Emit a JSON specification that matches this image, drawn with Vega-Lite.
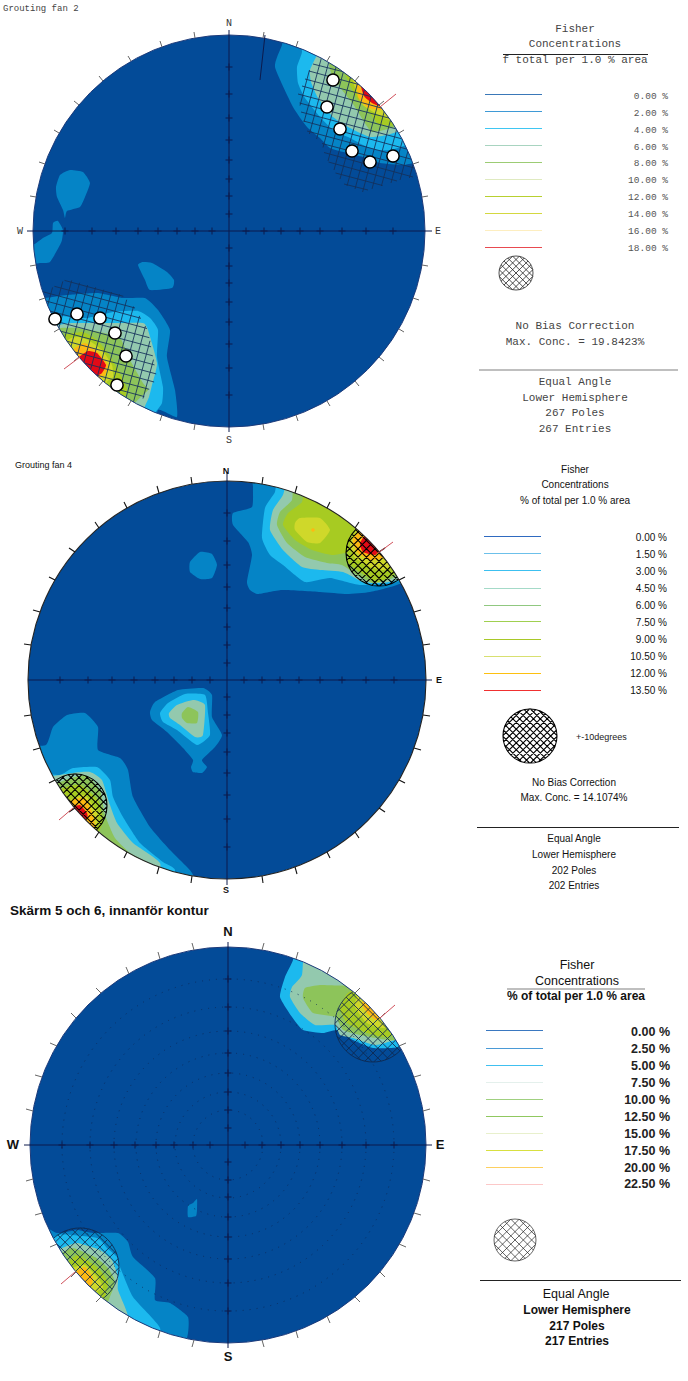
{"$schema":"https://vega.github.io/schema/vega-lite/v6.json","width":688,"height":1381,"padding":0,"autosize":{"type":"none"},"background":"white","config":{"view":{"stroke":null}},
"encoding":{"x":{"field":"x","type":"quantitative","scale":{"domain":[0,688],"nice":false,"zero":false},"axis":null},"y":{"field":"y","type":"quantitative","scale":{"domain":[0,1381],"reverse":true,"nice":false,"zero":false},"axis":null}},
"datasets":{
"polys":[
{"poly":"A1","band":"1","x":288,"y":25},{"poly":"A1","band":"1","x":282,"y":45},{"poly":"A1","band":"1","x":275,"y":67},{"poly":"A1","band":"1","x":293,"y":107},{"poly":"A1","band":"1","x":307,"y":127},{"poly":"A1","band":"1","x":320,"y":138},{"poly":"A1","band":"1","x":330,"y":148},{"poly":"A1","band":"1","x":347,"y":153},{"poly":"A1","band":"1","x":363,"y":157},{"poly":"A1","band":"1","x":380,"y":163},{"poly":"A1","band":"1","x":403,"y":165},{"poly":"A1","band":"1","x":415,"y":163},{"poly":"A1","band":"1","x":440,"y":165},{"poly":"A1","band":"1","x":435,"y":130},{"poly":"A1","band":"1","x":390,"y":80},{"poly":"A1","band":"1","x":340,"y":35},
{"poly":"A2","band":"2","x":302,"y":30},{"poly":"A2","band":"2","x":302,"y":52},{"poly":"A2","band":"2","x":297,"y":67},{"poly":"A2","band":"2","x":298,"y":83},{"poly":"A2","band":"2","x":305,"y":98},{"poly":"A2","band":"2","x":320,"y":117},{"poly":"A2","band":"2","x":333,"y":130},{"poly":"A2","band":"2","x":350,"y":138},{"poly":"A2","band":"2","x":363,"y":145},{"poly":"A2","band":"2","x":377,"y":150},{"poly":"A2","band":"2","x":390,"y":150},{"poly":"A2","band":"2","x":408,"y":145},{"poly":"A2","band":"2","x":435,"y":140},{"poly":"A2","band":"2","x":410,"y":90},{"poly":"A2","band":"2","x":370,"y":50},{"poly":"A2","band":"2","x":330,"y":30},
{"poly":"A3","band":"3","x":316,"y":57},{"poly":"A3","band":"3","x":310,"y":70},{"poly":"A3","band":"3","x":311,"y":82},{"poly":"A3","band":"3","x":318,"y":98},{"poly":"A3","band":"3","x":333,"y":117},{"poly":"A3","band":"3","x":350,"y":128},{"poly":"A3","band":"3","x":370,"y":137},{"poly":"A3","band":"3","x":387,"y":135},{"poly":"A3","band":"3","x":402,"y":130},{"poly":"A3","band":"3","x":425,"y":120},{"poly":"A3","band":"3","x":400,"y":85},{"poly":"A3","band":"3","x":360,"y":50},{"poly":"A3","band":"3","x":325,"y":40},
{"poly":"A4","band":"4","x":330,"y":62},{"poly":"A4","band":"4","x":332,"y":75},{"poly":"A4","band":"4","x":342,"y":90},{"poly":"A4","band":"4","x":353,"y":104},{"poly":"A4","band":"4","x":363,"y":120},{"poly":"A4","band":"4","x":372,"y":132},{"poly":"A4","band":"4","x":392,"y":128},{"poly":"A4","band":"4","x":400,"y":125},{"poly":"A4","band":"4","x":420,"y":110},{"poly":"A4","band":"4","x":395,"y":80},{"poly":"A4","band":"4","x":360,"y":50},
{"poly":"A5","band":"5","x":345,"y":70},{"poly":"A5","band":"5","x":350,"y":85},{"poly":"A5","band":"5","x":358,"y":100},{"poly":"A5","band":"5","x":370,"y":113},{"poly":"A5","band":"5","x":378,"y":124},{"poly":"A5","band":"5","x":395,"y":125},{"poly":"A5","band":"5","x":420,"y":110},{"poly":"A5","band":"5","x":400,"y":80},{"poly":"A5","band":"5","x":365,"y":60},
{"poly":"A6","band":"6","x":352,"y":72},{"poly":"A6","band":"6","x":356,"y":90},{"poly":"A6","band":"6","x":363,"y":105},{"poly":"A6","band":"6","x":377,"y":114},{"poly":"A6","band":"6","x":392,"y":120},{"poly":"A6","band":"6","x":412,"y":100},{"poly":"A6","band":"6","x":385,"y":72},
{"poly":"A7","band":"7","x":357,"y":78},{"poly":"A7","band":"7","x":358,"y":97},{"poly":"A7","band":"7","x":367,"y":107},{"poly":"A7","band":"7","x":383,"y":110},{"poly":"A7","band":"7","x":398,"y":100},{"poly":"A7","band":"7","x":375,"y":72},
{"poly":"A8","band":"8","x":361,"y":84},{"poly":"A8","band":"8","x":364,"y":96},{"poly":"A8","band":"8","x":372,"y":103},{"poly":"A8","band":"8","x":383,"y":107},{"poly":"A8","band":"8","x":394,"y":100},{"poly":"A8","band":"8","x":372,"y":78},
{"poly":"B1","band":"1","x":56,"y":187},{"poly":"B1","band":"1","x":60,"y":175},{"poly":"B1","band":"1","x":70,"y":170},{"poly":"B1","band":"1","x":83,"y":172},{"poly":"B1","band":"1","x":90,"y":183},{"poly":"B1","band":"1","x":85,"y":197},{"poly":"B1","band":"1","x":80,"y":207},{"poly":"B1","band":"1","x":67,"y":211},{"poly":"B1","band":"1","x":65,"y":218},{"poly":"B1","band":"1","x":63,"y":210},{"poly":"B1","band":"1","x":57,"y":197},
{"poly":"B2","band":"1","x":53,"y":223},{"poly":"B2","band":"1","x":58,"y":221},{"poly":"B2","band":"1","x":63,"y":230},{"poly":"B2","band":"1","x":62,"y":240},{"poly":"B2","band":"1","x":60,"y":245},{"poly":"B2","band":"1","x":50,"y":262},{"poly":"B2","band":"1","x":40,"y":263},{"poly":"B2","band":"1","x":20,"y":265},{"poly":"B2","band":"1","x":20,"y":248},{"poly":"B2","band":"1","x":33,"y":245},{"poly":"B2","band":"1","x":43,"y":238},{"poly":"B2","band":"1","x":52,"y":233},
{"poly":"B3","band":"1","x":138,"y":265},{"poly":"B3","band":"1","x":143,"y":262},{"poly":"B3","band":"1","x":152,"y":263},{"poly":"B3","band":"1","x":167,"y":272},{"poly":"B3","band":"1","x":174,"y":280},{"poly":"B3","band":"1","x":172,"y":288},{"poly":"B3","band":"1","x":150,"y":290},{"poly":"B3","band":"1","x":145,"y":280},
{"poly":"C1","band":"1","x":45,"y":298},{"poly":"C1","band":"1","x":67,"y":295},{"poly":"C1","band":"1","x":97,"y":293},{"poly":"C1","band":"1","x":123,"y":298},{"poly":"C1","band":"1","x":145,"y":298},{"poly":"C1","band":"1","x":158,"y":310},{"poly":"C1","band":"1","x":170,"y":330},{"poly":"C1","band":"1","x":167,"y":357},{"poly":"C1","band":"1","x":175,"y":390},{"poly":"C1","band":"1","x":177,"y":417},{"poly":"C1","band":"1","x":158,"y":410},{"poly":"C1","band":"1","x":150,"y":440},{"poly":"C1","band":"1","x":75,"y":395},{"poly":"C1","band":"1","x":25,"y":300},
{"poly":"C2","band":"2","x":40,"y":315},{"poly":"C2","band":"2","x":63,"y":316},{"poly":"C2","band":"2","x":87,"y":318},{"poly":"C2","band":"2","x":113,"y":312},{"poly":"C2","band":"2","x":138,"y":311},{"poly":"C2","band":"2","x":150,"y":318},{"poly":"C2","band":"2","x":158,"y":330},{"poly":"C2","band":"2","x":157,"y":357},{"poly":"C2","band":"2","x":163,"y":387},{"poly":"C2","band":"2","x":162,"y":403},{"poly":"C2","band":"2","x":155,"y":413},{"poly":"C2","band":"2","x":145,"y":430},{"poly":"C2","band":"2","x":75,"y":395},{"poly":"C2","band":"2","x":30,"y":320},
{"poly":"C3","band":"3","x":58,"y":325},{"poly":"C3","band":"3","x":73,"y":323},{"poly":"C3","band":"3","x":97,"y":323},{"poly":"C3","band":"3","x":120,"y":323},{"poly":"C3","band":"3","x":143,"y":323},{"poly":"C3","band":"3","x":148,"y":330},{"poly":"C3","band":"3","x":157,"y":363},{"poly":"C3","band":"3","x":152,"y":385},{"poly":"C3","band":"3","x":149,"y":397},{"poly":"C3","band":"3","x":145,"y":406},{"poly":"C3","band":"3","x":135,"y":425},{"poly":"C3","band":"3","x":70,"y":390},{"poly":"C3","band":"3","x":40,"y":330},
{"poly":"C4","band":"4","x":60,"y":328},{"poly":"C4","band":"4","x":78,"y":328},{"poly":"C4","band":"4","x":100,"y":332},{"poly":"C4","band":"4","x":120,"y":338},{"poly":"C4","band":"4","x":130,"y":360},{"poly":"C4","band":"4","x":143,"y":383},{"poly":"C4","band":"4","x":148,"y":390},{"poly":"C4","band":"4","x":135,"y":403},{"poly":"C4","band":"4","x":125,"y":425},{"poly":"C4","band":"4","x":70,"y":390},{"poly":"C4","band":"4","x":45,"y":335},
{"poly":"C5","band":"5","x":63,"y":335},{"poly":"C5","band":"5","x":83,"y":332},{"poly":"C5","band":"5","x":97,"y":340},{"poly":"C5","band":"5","x":108,"y":353},{"poly":"C5","band":"5","x":117,"y":368},{"poly":"C5","band":"5","x":127,"y":390},{"poly":"C5","band":"5","x":115,"y":410},{"poly":"C5","band":"5","x":60,"y":375},{"poly":"C5","band":"5","x":45,"y":340},
{"poly":"C6","band":"6","x":68,"y":340},{"poly":"C6","band":"6","x":78,"y":337},{"poly":"C6","band":"6","x":88,"y":340},{"poly":"C6","band":"6","x":102,"y":350},{"poly":"C6","band":"6","x":112,"y":365},{"poly":"C6","band":"6","x":113,"y":377},{"poly":"C6","band":"6","x":107,"y":382},{"poly":"C6","band":"6","x":100,"y":405},{"poly":"C6","band":"6","x":55,"y":365},
{"poly":"C7","band":"7","x":75,"y":348},{"poly":"C7","band":"7","x":85,"y":343},{"poly":"C7","band":"7","x":98,"y":352},{"poly":"C7","band":"7","x":108,"y":365},{"poly":"C7","band":"7","x":105,"y":375},{"poly":"C7","band":"7","x":100,"y":378},{"poly":"C7","band":"7","x":92,"y":395},{"poly":"C7","band":"7","x":60,"y":365},
{"poly":"C8","band":"8","x":79,"y":357},{"poly":"C8","band":"8","x":88,"y":351},{"poly":"C8","band":"8","x":97,"y":353},{"poly":"C8","band":"8","x":106,"y":365},{"poly":"C8","band":"8","x":102,"y":373},{"poly":"C8","band":"8","x":98,"y":376},{"poly":"C8","band":"8","x":90,"y":390},{"poly":"C8","band":"8","x":65,"y":370},
{"poly":"D1","band":"1","x":255,"y":470},{"poly":"D1","band":"1","x":253,"y":487},{"poly":"D1","band":"1","x":252,"y":507},{"poly":"D1","band":"1","x":233,"y":513},{"poly":"D1","band":"1","x":233,"y":525},{"poly":"D1","band":"1","x":248,"y":542},{"poly":"D1","band":"1","x":252,"y":555},{"poly":"D1","band":"1","x":247,"y":582},{"poly":"D1","band":"1","x":250,"y":590},{"poly":"D1","band":"1","x":258,"y":594},{"poly":"D1","band":"1","x":282,"y":590},{"poly":"D1","band":"1","x":320,"y":592},{"poly":"D1","band":"1","x":347,"y":594},{"poly":"D1","band":"1","x":370,"y":592},{"poly":"D1","band":"1","x":397,"y":585},{"poly":"D1","band":"1","x":425,"y":570},{"poly":"D1","band":"1","x":395,"y":530},{"poly":"D1","band":"1","x":325,"y":475},
{"poly":"D2","band":"2","x":280,"y":472},{"poly":"D2","band":"2","x":275,"y":492},{"poly":"D2","band":"2","x":265,"y":508},{"poly":"D2","band":"2","x":262,"y":538},{"poly":"D2","band":"2","x":270,"y":555},{"poly":"D2","band":"2","x":283,"y":565},{"poly":"D2","band":"2","x":305,"y":582},{"poly":"D2","band":"2","x":330,"y":578},{"poly":"D2","band":"2","x":360,"y":585},{"poly":"D2","band":"2","x":397,"y":582},{"poly":"D2","band":"2","x":420,"y":565},{"poly":"D2","band":"2","x":395,"y":530},{"poly":"D2","band":"2","x":325,"y":475},
{"poly":"D3","band":"3","x":290,"y":475},{"poly":"D3","band":"3","x":283,"y":495},{"poly":"D3","band":"3","x":273,"y":510},{"poly":"D3","band":"3","x":270,"y":530},{"poly":"D3","band":"3","x":283,"y":550},{"poly":"D3","band":"3","x":302,"y":567},{"poly":"D3","band":"3","x":320,"y":570},{"poly":"D3","band":"3","x":343,"y":572},{"poly":"D3","band":"3","x":363,"y":582},{"poly":"D3","band":"3","x":380,"y":583},{"poly":"D3","band":"3","x":397,"y":580},{"poly":"D3","band":"3","x":420,"y":562},{"poly":"D3","band":"3","x":395,"y":530},{"poly":"D3","band":"3","x":325,"y":475},
{"poly":"D4","band":"4","x":295,"y":478},{"poly":"D4","band":"4","x":292,"y":500},{"poly":"D4","band":"4","x":280,"y":512},{"poly":"D4","band":"4","x":277,"y":525},{"poly":"D4","band":"4","x":287,"y":543},{"poly":"D4","band":"4","x":305,"y":557},{"poly":"D4","band":"4","x":327,"y":563},{"poly":"D4","band":"4","x":342,"y":565},{"poly":"D4","band":"4","x":357,"y":575},{"poly":"D4","band":"4","x":373,"y":583},{"poly":"D4","band":"4","x":393,"y":578},{"poly":"D4","band":"4","x":420,"y":560},{"poly":"D4","band":"4","x":395,"y":530},{"poly":"D4","band":"4","x":325,"y":475},
{"poly":"D5","band":"5","x":305,"y":485},{"poly":"D5","band":"5","x":302,"y":502},{"poly":"D5","band":"5","x":288,"y":513},{"poly":"D5","band":"5","x":283,"y":525},{"poly":"D5","band":"5","x":295,"y":540},{"poly":"D5","band":"5","x":312,"y":550},{"poly":"D5","band":"5","x":332,"y":555},{"poly":"D5","band":"5","x":347,"y":553},{"poly":"D5","band":"5","x":348,"y":563},{"poly":"D5","band":"5","x":360,"y":572},{"poly":"D5","band":"5","x":377,"y":582},{"poly":"D5","band":"5","x":393,"y":575},{"poly":"D5","band":"5","x":420,"y":555},{"poly":"D5","band":"5","x":395,"y":530},{"poly":"D5","band":"5","x":325,"y":480},
{"poly":"D6","band":"6","x":295,"y":523},{"poly":"D6","band":"6","x":300,"y":518},{"poly":"D6","band":"6","x":320,"y":518},{"poly":"D6","band":"6","x":330,"y":530},{"poly":"D6","band":"6","x":320,"y":543},{"poly":"D6","band":"6","x":307,"y":542},{"poly":"D6","band":"6","x":295,"y":530},
{"poly":"D7","band":"7","x":311,"y":530},{"poly":"D7","band":"7","x":313,"y":528},{"poly":"D7","band":"7","x":315,"y":530},{"poly":"D7","band":"7","x":313,"y":532},
{"poly":"D8","band":"6","x":357,"y":530},{"poly":"D8","band":"6","x":350,"y":545},{"poly":"D8","band":"6","x":355,"y":558},{"poly":"D8","band":"6","x":370,"y":567},{"poly":"D8","band":"6","x":385,"y":570},{"poly":"D8","band":"6","x":400,"y":560},{"poly":"D8","band":"6","x":380,"y":530},
{"poly":"D9","band":"7","x":353,"y":538},{"poly":"D9","band":"7","x":357,"y":552},{"poly":"D9","band":"7","x":370,"y":560},{"poly":"D9","band":"7","x":383,"y":558},{"poly":"D9","band":"7","x":395,"y":540},{"poly":"D9","band":"7","x":375,"y":520},
{"poly":"D10","band":"8","x":360,"y":543},{"poly":"D10","band":"8","x":363,"y":552},{"poly":"D10","band":"8","x":375,"y":555},{"poly":"D10","band":"8","x":378,"y":552},{"poly":"D10","band":"8","x":385,"y":545},{"poly":"D10","band":"8","x":370,"y":530},
{"poly":"E1","band":"1","x":190,"y":562},{"poly":"E1","band":"1","x":200,"y":552},{"poly":"E1","band":"1","x":212,"y":554},{"poly":"E1","band":"1","x":217,"y":565},{"poly":"E1","band":"1","x":212,"y":578},{"poly":"E1","band":"1","x":200,"y":579},{"poly":"E1","band":"1","x":190,"y":572},
{"poly":"F1","band":"1","x":150,"y":712},{"poly":"F1","band":"1","x":155,"y":702},{"poly":"F1","band":"1","x":178,"y":690},{"poly":"F1","band":"1","x":203,"y":688},{"poly":"F1","band":"1","x":212,"y":695},{"poly":"F1","band":"1","x":212,"y":717},{"poly":"F1","band":"1","x":222,"y":735},{"poly":"F1","band":"1","x":215,"y":747},{"poly":"F1","band":"1","x":202,"y":760},{"poly":"F1","band":"1","x":207,"y":767},{"poly":"F1","band":"1","x":202,"y":773},{"poly":"F1","band":"1","x":193,"y":772},{"poly":"F1","band":"1","x":191,"y":767},{"poly":"F1","band":"1","x":193,"y":760},{"poly":"F1","band":"1","x":183,"y":748},{"poly":"F1","band":"1","x":167,"y":732},{"poly":"F1","band":"1","x":152,"y":720},
{"poly":"F2","band":"2","x":160,"y":713},{"poly":"F2","band":"2","x":168,"y":703},{"poly":"F2","band":"2","x":185,"y":694},{"poly":"F2","band":"2","x":205,"y":695},{"poly":"F2","band":"2","x":208,"y":713},{"poly":"F2","band":"2","x":210,"y":735},{"poly":"F2","band":"2","x":197,"y":745},{"poly":"F2","band":"2","x":177,"y":730},{"poly":"F2","band":"2","x":163,"y":722},
{"poly":"F3","band":"3","x":169,"y":713},{"poly":"F3","band":"3","x":177,"y":705},{"poly":"F3","band":"3","x":193,"y":700},{"poly":"F3","band":"3","x":205,"y":705},{"poly":"F3","band":"3","x":203,"y":735},{"poly":"F3","band":"3","x":195,"y":737},{"poly":"F3","band":"3","x":180,"y":725},{"poly":"F3","band":"3","x":170,"y":718},
{"poly":"F4","band":"4","x":182,"y":713},{"poly":"F4","band":"4","x":188,"y":707},{"poly":"F4","band":"4","x":198,"y":712},{"poly":"F4","band":"4","x":197,"y":723},{"poly":"F4","band":"4","x":187,"y":723},{"poly":"F4","band":"4","x":182,"y":718},
{"poly":"G1","band":"1","x":46,"y":745},{"poly":"G1","band":"1","x":53,"y":727},{"poly":"G1","band":"1","x":67,"y":715},{"poly":"G1","band":"1","x":85,"y":713},{"poly":"G1","band":"1","x":98,"y":727},{"poly":"G1","band":"1","x":98,"y":750},{"poly":"G1","band":"1","x":120,"y":758},{"poly":"G1","band":"1","x":128,"y":770},{"poly":"G1","band":"1","x":133,"y":797},{"poly":"G1","band":"1","x":150,"y":827},{"poly":"G1","band":"1","x":170,"y":850},{"poly":"G1","band":"1","x":187,"y":867},{"poly":"G1","band":"1","x":193,"y":875},{"poly":"G1","band":"1","x":195,"y":900},{"poly":"G1","band":"1","x":110,"y":870},{"poly":"G1","band":"1","x":50,"y":810},{"poly":"G1","band":"1","x":20,"y":750},
{"poly":"G2","band":"2","x":60,"y":775},{"poly":"G2","band":"2","x":73,"y":768},{"poly":"G2","band":"2","x":97,"y":767},{"poly":"G2","band":"2","x":110,"y":780},{"poly":"G2","band":"2","x":113,"y":797},{"poly":"G2","band":"2","x":123,"y":817},{"poly":"G2","band":"2","x":140,"y":843},{"poly":"G2","band":"2","x":163,"y":862},{"poly":"G2","band":"2","x":175,"y":870},{"poly":"G2","band":"2","x":165,"y":895},{"poly":"G2","band":"2","x":110,"y":870},{"poly":"G2","band":"2","x":50,"y":810},{"poly":"G2","band":"2","x":35,"y":775},
{"poly":"G3","band":"3","x":73,"y":773},{"poly":"G3","band":"3","x":90,"y":772},{"poly":"G3","band":"3","x":102,"y":780},{"poly":"G3","band":"3","x":110,"y":805},{"poly":"G3","band":"3","x":117,"y":823},{"poly":"G3","band":"3","x":133,"y":843},{"poly":"G3","band":"3","x":160,"y":863},{"poly":"G3","band":"3","x":155,"y":890},{"poly":"G3","band":"3","x":110,"y":870},{"poly":"G3","band":"3","x":50,"y":810},{"poly":"G3","band":"3","x":40,"y":780},
{"poly":"G4","band":"4","x":85,"y":775},{"poly":"G4","band":"4","x":100,"y":790},{"poly":"G4","band":"4","x":105,"y":815},{"poly":"G4","band":"4","x":115,"y":838},{"poly":"G4","band":"4","x":130,"y":853},{"poly":"G4","band":"4","x":152,"y":866},{"poly":"G4","band":"4","x":140,"y":885},{"poly":"G4","band":"4","x":100,"y":875},{"poly":"G4","band":"4","x":50,"y":815},{"poly":"G4","band":"4","x":55,"y":785},
{"poly":"G5","band":"5","x":60,"y":790},{"poly":"G5","band":"5","x":80,"y":785},{"poly":"G5","band":"5","x":98,"y":800},{"poly":"G5","band":"5","x":103,"y":820},{"poly":"G5","band":"5","x":98,"y":833},{"poly":"G5","band":"5","x":80,"y":850},{"poly":"G5","band":"5","x":45,"y":820},
{"poly":"G6","band":"6","x":70,"y":800},{"poly":"G6","band":"6","x":85,"y":795},{"poly":"G6","band":"6","x":97,"y":812},{"poly":"G6","band":"6","x":97,"y":825},{"poly":"G6","band":"6","x":90,"y":835},{"poly":"G6","band":"6","x":60,"y":825},{"poly":"G6","band":"6","x":55,"y":805},
{"poly":"G7","band":"7","x":72,"y":800},{"poly":"G7","band":"7","x":85,"y":798},{"poly":"G7","band":"7","x":93,"y":815},{"poly":"G7","band":"7","x":95,"y":828},{"poly":"G7","band":"7","x":90,"y":835},{"poly":"G7","band":"7","x":70,"y":825},{"poly":"G7","band":"7","x":60,"y":810},
{"poly":"G8","band":"8","x":73,"y":807},{"poly":"G8","band":"8","x":80,"y":805},{"poly":"G8","band":"8","x":87,"y":813},{"poly":"G8","band":"8","x":87,"y":818},{"poly":"G8","band":"8","x":75,"y":825},{"poly":"G8","band":"8","x":60,"y":812},
{"poly":"H2","band":"2","x":295,"y":940},{"poly":"H2","band":"2","x":293,"y":960},{"poly":"H2","band":"2","x":285,"y":977},{"poly":"H2","band":"2","x":280,"y":997},{"poly":"H2","band":"2","x":292,"y":1017},{"poly":"H2","band":"2","x":303,"y":1030},{"poly":"H2","band":"2","x":323,"y":1033},{"poly":"H2","band":"2","x":337,"y":1030},{"poly":"H2","band":"2","x":353,"y":1040},{"poly":"H2","band":"2","x":373,"y":1048},{"poly":"H2","band":"2","x":400,"y":1047},{"poly":"H2","band":"2","x":425,"y":1035},{"poly":"H2","band":"2","x":390,"y":985},{"poly":"H2","band":"2","x":330,"y":945},
{"poly":"H3","band":"3","x":305,"y":950},{"poly":"H3","band":"3","x":302,"y":975},{"poly":"H3","band":"3","x":292,"y":987},{"poly":"H3","band":"3","x":290,"y":997},{"poly":"H3","band":"3","x":300,"y":1013},{"poly":"H3","band":"3","x":315,"y":1025},{"poly":"H3","band":"3","x":335,"y":1025},{"poly":"H3","band":"3","x":340,"y":1035},{"poly":"H3","band":"3","x":353,"y":1038},{"poly":"H3","band":"3","x":375,"y":1045},{"poly":"H3","band":"3","x":395,"y":1040},{"poly":"H3","band":"3","x":425,"y":1030},{"poly":"H3","band":"3","x":390,"y":985},{"poly":"H3","band":"3","x":330,"y":945},
{"poly":"H4","band":"4","x":305,"y":988},{"poly":"H4","band":"4","x":320,"y":985},{"poly":"H4","band":"4","x":347,"y":985},{"poly":"H4","band":"4","x":375,"y":970},{"poly":"H4","band":"4","x":420,"y":1020},{"poly":"H4","band":"4","x":395,"y":1040},{"poly":"H4","band":"4","x":360,"y":1035},{"poly":"H4","band":"4","x":343,"y":1030},{"poly":"H4","band":"4","x":335,"y":1017},{"poly":"H4","band":"4","x":313,"y":1013},{"poly":"H4","band":"4","x":303,"y":998},
{"poly":"H5","band":"5","x":348,"y":993},{"poly":"H5","band":"5","x":340,"y":1008},{"poly":"H5","band":"5","x":347,"y":1023},{"poly":"H5","band":"5","x":367,"y":1033},{"poly":"H5","band":"5","x":388,"y":1037},{"poly":"H5","band":"5","x":415,"y":1020},{"poly":"H5","band":"5","x":380,"y":975},
{"poly":"H6","band":"6","x":358,"y":993},{"poly":"H6","band":"6","x":355,"y":1007},{"poly":"H6","band":"6","x":367,"y":1023},{"poly":"H6","band":"6","x":385,"y":1028},{"poly":"H6","band":"6","x":410,"y":1015},{"poly":"H6","band":"6","x":375,"y":975},
{"poly":"H7","band":"7","x":362,"y":1003},{"poly":"H7","band":"7","x":367,"y":1013},{"poly":"H7","band":"7","x":377,"y":1020},{"poly":"H7","band":"7","x":395,"y":1010},{"poly":"H7","band":"7","x":375,"y":990},
{"poly":"J1","band":"1","x":188,"y":1206},{"poly":"J1","band":"1","x":193,"y":1203},{"poly":"J1","band":"1","x":197,"y":1199},{"poly":"J1","band":"1","x":197,"y":1210},{"poly":"J1","band":"1","x":196,"y":1216},{"poly":"J1","band":"1","x":188,"y":1217},
{"poly":"K1","band":"1","x":57,"y":1233},{"poly":"K1","band":"1","x":77,"y":1230},{"poly":"K1","band":"1","x":93,"y":1233},{"poly":"K1","band":"1","x":118,"y":1233},{"poly":"K1","band":"1","x":128,"y":1242},{"poly":"K1","band":"1","x":133,"y":1257},{"poly":"K1","band":"1","x":155,"y":1278},{"poly":"K1","band":"1","x":155,"y":1300},{"poly":"K1","band":"1","x":170,"y":1303},{"poly":"K1","band":"1","x":188,"y":1317},{"poly":"K1","band":"1","x":187,"y":1338},{"poly":"K1","band":"1","x":170,"y":1365},{"poly":"K1","band":"1","x":100,"y":1330},{"poly":"K1","band":"1","x":40,"y":1260},{"poly":"K1","band":"1","x":30,"y":1220},
{"poly":"K2","band":"2","x":58,"y":1235},{"poly":"K2","band":"2","x":97,"y":1238},{"poly":"K2","band":"2","x":107,"y":1248},{"poly":"K2","band":"2","x":117,"y":1257},{"poly":"K2","band":"2","x":120,"y":1267},{"poly":"K2","band":"2","x":133,"y":1297},{"poly":"K2","band":"2","x":160,"y":1328},{"poly":"K2","band":"2","x":155,"y":1360},{"poly":"K2","band":"2","x":100,"y":1330},{"poly":"K2","band":"2","x":40,"y":1260},
{"poly":"K3","band":"3","x":62,"y":1248},{"poly":"K3","band":"3","x":77,"y":1243},{"poly":"K3","band":"3","x":100,"y":1250},{"poly":"K3","band":"3","x":112,"y":1260},{"poly":"K3","band":"3","x":118,"y":1277},{"poly":"K3","band":"3","x":118,"y":1290},{"poly":"K3","band":"3","x":128,"y":1316},{"poly":"K3","band":"3","x":125,"y":1345},{"poly":"K3","band":"3","x":80,"y":1320},{"poly":"K3","band":"3","x":35,"y":1260},
{"poly":"K4","band":"4","x":63,"y":1252},{"poly":"K4","band":"4","x":73,"y":1248},{"poly":"K4","band":"4","x":95,"y":1257},{"poly":"K4","band":"4","x":108,"y":1268},{"poly":"K4","band":"4","x":115,"y":1282},{"poly":"K4","band":"4","x":108,"y":1302},{"poly":"K4","band":"4","x":100,"y":1325},{"poly":"K4","band":"4","x":40,"y":1265},
{"poly":"K5","band":"5","x":67,"y":1262},{"poly":"K5","band":"5","x":78,"y":1255},{"poly":"K5","band":"5","x":98,"y":1268},{"poly":"K5","band":"5","x":108,"y":1282},{"poly":"K5","band":"5","x":105,"y":1297},{"poly":"K5","band":"5","x":95,"y":1320},{"poly":"K5","band":"5","x":45,"y":1270},
{"poly":"K6","band":"6","x":72,"y":1268},{"poly":"K6","band":"6","x":85,"y":1265},{"poly":"K6","band":"6","x":98,"y":1278},{"poly":"K6","band":"6","x":103,"y":1287},{"poly":"K6","band":"6","x":97,"y":1292},{"poly":"K6","band":"6","x":85,"y":1310},{"poly":"K6","band":"6","x":50,"y":1280},
{"poly":"K7","band":"7","x":75,"y":1272},{"poly":"K7","band":"7","x":85,"y":1267},{"poly":"K7","band":"7","x":93,"y":1278},{"poly":"K7","band":"7","x":90,"y":1288},{"poly":"K7","band":"7","x":75,"y":1300},{"poly":"K7","band":"7","x":55,"y":1285}
],
"hatch":[
{"x":313,"y":64,"x2":350,"y2":73.5},{"x":309,"y":71,"x2":368,"y2":87},{"x":305,"y":79,"x2":380,"y2":99},{"x":302,"y":86,"x2":392,"y2":111},{"x":298,"y":94,"x2":400,"y2":121},{"x":299.5,"y":103,"x2":404,"y2":131},{"x":301,"y":112,"x2":410,"y2":141},{"x":303.5,"y":121,"x2":414,"y2":151},{"x":307,"y":131,"x2":418,"y2":161},{"x":322,"y":143.5,"x2":422,"y2":170},{"x":324,"y":152.5,"x2":413,"y2":177},{"x":328.5,"y":162,"x2":397,"y2":181},{"x":335.5,"y":173,"x2":382.6,"y2":185.5},{"x":344,"y":184,"x2":368,"y2":190},
{"x":309.5,"y":70,"x2":300,"y2":105.5},{"x":323,"y":52,"x2":304,"y2":122},{"x":332,"y":50,"x2":309.4,"y2":134},{"x":339,"y":56,"x2":316.6,"y2":139},{"x":346,"y":62,"x2":323,"y2":147.5},{"x":353,"y":68,"x2":328,"y2":161},{"x":360,"y":74,"x2":334,"y2":170},{"x":367,"y":80,"x2":340,"y2":179},{"x":375,"y":82,"x2":347,"y2":186},{"x":383,"y":85,"x2":355,"y2":189},{"x":390,"y":90,"x2":362.6,"y2":192},{"x":397,"y":96,"x2":372,"y2":189},{"x":404,"y":102,"x2":381.4,"y2":186},{"x":410,"y":112,"x2":391,"y2":183},{"x":414,"y":129,"x2":400,"y2":180},{"x":420,"y":139,"x2":409.4,"y2":178},
{"x":64.5,"y":280.4,"x2":123.3,"y2":296.3},{"x":54.4,"y":286.3,"x2":135,"y2":308},{"x":35,"y":289.6,"x2":141,"y2":318.3},{"x":35,"y":298,"x2":147,"y2":328.5},{"x":35,"y":307,"x2":149.4,"y2":337.7},{"x":40,"y":317,"x2":151.1,"y2":346.8},{"x":45,"y":327,"x2":152.8,"y2":355.8},{"x":55,"y":338,"x2":154.5,"y2":364.9},{"x":65,"y":349.4,"x2":156.2,"y2":373.9},{"x":75,"y":360.6,"x2":154.1,"y2":382},{"x":85,"y":372,"x2":149.2,"y2":389.3},{"x":100,"y":384.6,"x2":144.3,"y2":396.6},
{"x":52.6,"y":287.4,"x2":45,"y2":315},{"x":62.8,"y":281.4,"x2":48,"y2":336},{"x":71.7,"y":280.4,"x2":54.3,"y2":345},{"x":79.6,"y":282.7,"x2":59.3,"y2":358},{"x":87.6,"y":285,"x2":64.7,"y2":370},{"x":95.6,"y":287.3,"x2":72,"y2":375},{"x":103.6,"y":289.7,"x2":77.8,"y2":385},{"x":111.5,"y":292,"x2":83.7,"y2":395},{"x":119.5,"y":294.3,"x2":89.6,"y2":405},{"x":126.7,"y":299.7,"x2":99.6,"y2":400},{"x":133.5,"y":306.5,"x2":105.5,"y2":410},{"x":139.6,"y":315.9,"x2":112.8,"y2":415},{"x":145.5,"y":325.9,"x2":120,"y2":420},{"x":150,"y":340.8,"x2":128.6,"y2":420},{"x":153.5,"y":359.6,"x2":143,"y2":398.5}
],
"ticksA":[
{"x":263,"y":38,"x2":264,"y2":32},{"x":296,"y":47,"x2":298,"y2":41},{"x":327,"y":61,"x2":330,"y2":56},{"x":355,"y":81,"x2":359,"y2":76},{"x":379,"y":105,"x2":384,"y2":101},{"x":399,"y":133,"x2":404,"y2":130},{"x":413,"y":164,"x2":419,"y2":162},{"x":422,"y":197,"x2":428,"y2":196},{"x":422,"y":265,"x2":428,"y2":266},{"x":413,"y":298,"x2":419,"y2":300},{"x":399,"y":329,"x2":404,"y2":332},{"x":379,"y":357,"x2":384,"y2":361},{"x":355,"y":381,"x2":359,"y2":386},{"x":327,"y":401,"x2":330,"y2":406},{"x":296,"y":415,"x2":298,"y2":421},{"x":263,"y":424,"x2":264,"y2":430},{"x":195,"y":424,"x2":194,"y2":430},{"x":162,"y":415,"x2":160,"y2":421},{"x":131,"y":401,"x2":128,"y2":406},{"x":103,"y":381,"x2":99,"y2":386},{"x":79,"y":357,"x2":74,"y2":361},{"x":59,"y":329,"x2":54,"y2":332},{"x":45,"y":298,"x2":39,"y2":300},{"x":36,"y":265,"x2":30,"y2":266},{"x":36,"y":197,"x2":30,"y2":196},{"x":45,"y":164,"x2":39,"y2":162},{"x":59,"y":133,"x2":54,"y2":130},{"x":79,"y":105,"x2":74,"y2":101},{"x":103,"y":81,"x2":99,"y2":76},{"x":131,"y":61,"x2":128,"y2":56},{"x":162,"y":47,"x2":160,"y2":41},{"x":195,"y":38,"x2":194,"y2":32},
{"x":262,"y":950,"x2":264,"y2":943},{"x":296,"y":959,"x2":298,"y2":952},{"x":327,"y":974,"x2":330,"y2":967},{"x":355,"y":993,"x2":360,"y2":988},{"x":380,"y":1018,"x2":385,"y2":1013},{"x":399,"y":1046,"x2":406,"y2":1043},{"x":414,"y":1077,"x2":421,"y2":1075},{"x":423,"y":1111,"x2":430,"y2":1109},{"x":423,"y":1179,"x2":430,"y2":1181},{"x":414,"y":1213,"x2":421,"y2":1215},{"x":399,"y":1244,"x2":406,"y2":1247},{"x":380,"y":1272,"x2":385,"y2":1277},{"x":355,"y":1297,"x2":360,"y2":1302},{"x":327,"y":1316,"x2":330,"y2":1323},{"x":296,"y":1331,"x2":298,"y2":1338},{"x":262,"y":1340,"x2":264,"y2":1347},{"x":194,"y":1340,"x2":192,"y2":1347},{"x":160,"y":1331,"x2":158,"y2":1338},{"x":129,"y":1316,"x2":126,"y2":1323},{"x":101,"y":1297,"x2":96,"y2":1302},{"x":76,"y":1272,"x2":71,"y2":1277},{"x":57,"y":1244,"x2":50,"y2":1247},{"x":42,"y":1213,"x2":35,"y2":1215},{"x":33,"y":1179,"x2":26,"y2":1181},{"x":33,"y":1111,"x2":26,"y2":1109},{"x":42,"y":1077,"x2":35,"y2":1075},{"x":57,"y":1046,"x2":50,"y2":1043},{"x":76,"y":1018,"x2":71,"y2":1013},{"x":101,"y":993,"x2":96,"y2":988},{"x":129,"y":974,"x2":126,"y2":967},{"x":160,"y":959,"x2":158,"y2":952},{"x":194,"y":950,"x2":192,"y2":943}
],
"ticksB":[
{"x":262,"y":484,"x2":263,"y2":477},{"x":295,"y":493,"x2":297,"y2":486},{"x":327,"y":508,"x2":330,"y2":502},{"x":355,"y":528,"x2":359,"y2":522},{"x":379,"y":552,"x2":385,"y2":548},{"x":399,"y":580,"x2":405,"y2":577},{"x":414,"y":612,"x2":421,"y2":610},{"x":423,"y":645,"x2":430,"y2":644},{"x":423,"y":715,"x2":430,"y2":716},{"x":414,"y":748,"x2":421,"y2":750},{"x":399,"y":780,"x2":405,"y2":783},{"x":379,"y":808,"x2":385,"y2":812},{"x":355,"y":832,"x2":359,"y2":838},{"x":327,"y":852,"x2":330,"y2":858},{"x":295,"y":867,"x2":297,"y2":874},{"x":262,"y":876,"x2":263,"y2":883},{"x":192,"y":876,"x2":191,"y2":883},{"x":159,"y":867,"x2":157,"y2":874},{"x":127,"y":852,"x2":124,"y2":858},{"x":99,"y":832,"x2":95,"y2":838},{"x":75,"y":808,"x2":69,"y2":812},{"x":55,"y":780,"x2":49,"y2":783},{"x":40,"y":748,"x2":33,"y2":750},{"x":31,"y":715,"x2":24,"y2":716},{"x":31,"y":645,"x2":24,"y2":644},{"x":40,"y":612,"x2":33,"y2":610},{"x":55,"y":580,"x2":49,"y2":577},{"x":75,"y":552,"x2":69,"y2":548},{"x":99,"y":528,"x2":95,"y2":522},{"x":127,"y":508,"x2":124,"y2":502},{"x":159,"y":493,"x2":157,"y2":486},{"x":192,"y":484,"x2":191,"y2":477}
],
"axisMarks":[
{"x":246,"y":231},{"x":264,"y":231},{"x":281,"y":231},{"x":300,"y":231},{"x":320,"y":231},{"x":342,"y":231},{"x":366,"y":231},{"x":393,"y":231},{"x":212,"y":231},{"x":195,"y":231},{"x":177,"y":231},{"x":158,"y":231},{"x":138,"y":231},{"x":116,"y":231},{"x":92,"y":231},{"x":65,"y":231},
{"x":229,"y":248},{"x":229,"y":266},{"x":229,"y":283},{"x":229,"y":302},{"x":229,"y":322},{"x":229,"y":344},{"x":229,"y":368},{"x":229,"y":395},{"x":229,"y":214},{"x":229,"y":196},{"x":229,"y":179},{"x":229,"y":160},{"x":229,"y":140},{"x":229,"y":118},{"x":229,"y":94},{"x":229,"y":67},
{"x":244,"y":680},{"x":262,"y":680},{"x":280,"y":680},{"x":299,"y":680},{"x":320,"y":680},{"x":342,"y":680},{"x":366,"y":680},{"x":394,"y":680},{"x":210,"y":680},{"x":192,"y":680},{"x":174,"y":680},{"x":155,"y":680},{"x":134,"y":680},{"x":112,"y":680},{"x":88,"y":680},{"x":60,"y":680},
{"x":227,"y":697},{"x":227,"y":715},{"x":227,"y":733},{"x":227,"y":752},{"x":227,"y":773},{"x":227,"y":795},{"x":227,"y":819},{"x":227,"y":847},{"x":227,"y":663},{"x":227,"y":645},{"x":227,"y":627},{"x":227,"y":608},{"x":227,"y":587},{"x":227,"y":565},{"x":227,"y":541},{"x":227,"y":513},
{"x":245,"y":1145},{"x":262,"y":1145},{"x":281,"y":1145},{"x":300,"y":1145},{"x":320,"y":1145},{"x":342,"y":1145},{"x":366,"y":1145},{"x":394,"y":1145},{"x":210,"y":1145},{"x":193,"y":1145},{"x":174,"y":1145},{"x":156,"y":1145},{"x":135,"y":1145},{"x":114,"y":1145},{"x":90,"y":1145},{"x":62,"y":1145},
{"x":228,"y":1162},{"x":228,"y":1180},{"x":228,"y":1197},{"x":228,"y":1217},{"x":228,"y":1237},{"x":228,"y":1259},{"x":228,"y":1283},{"x":228,"y":1311},{"x":228,"y":1128},{"x":228,"y":1110},{"x":228,"y":1092},{"x":228,"y":1073},{"x":228,"y":1053},{"x":228,"y":1031},{"x":228,"y":1007},{"x":228,"y":979}
],
"cross":[
{"x":27,"y":231,"x2":432,"y2":231},{"x":229,"y":30,"x2":229,"y2":432},{"x":265,"y":35,"x2":260,"y2":80},{"x":28,"y":680,"x2":432,"y2":680},{"x":227,"y":472,"x2":227,"y2":885},{"x":24,"y":1145,"x2":432,"y2":1145},{"x":228,"y":942,"x2":228,"y2":1348}
],
"rays":[
{"x":380,"y":107,"x2":396,"y2":94},{"x":80,"y":357,"x2":64,"y2":369},{"x":378,"y":553,"x2":393,"y2":542},{"x":73,"y":808,"x2":59,"y2":820},{"x":380,"y":1018,"x2":395,"y2":1005},{"x":75,"y":1272,"x2":61,"y2":1284}
],
"dots":[
{"x":333,"y":80},{"x":327,"y":107},{"x":340,"y":129},{"x":352,"y":151},{"x":370,"y":162},{"x":393,"y":156},{"x":55,"y":319},{"x":77,"y":314},{"x":100,"y":318},{"x":115,"y":333},{"x":126,"y":356},{"x":117,"y":385}
],
"keyLines":[
{"level":"a0","x":485,"x2":542,"y":94.5},{"level":"a1","x":485,"x2":542,"y":111.5},{"level":"a2","x":485,"x2":542,"y":128.5},{"level":"a3","x":485,"x2":542,"y":145.5},{"level":"a4","x":485,"x2":542,"y":162.5},{"level":"a5","x":485,"x2":542,"y":179.5},{"level":"a6","x":485,"x2":542,"y":196.5},{"level":"a7","x":485,"x2":542,"y":213.5},{"level":"a8","x":485,"x2":542,"y":230.5},{"level":"a9","x":485,"x2":542,"y":247.5},
{"level":"b0","x":484,"x2":541,"y":536.5},{"level":"b1","x":484,"x2":541,"y":553.5},{"level":"b2","x":484,"x2":541,"y":570.5},{"level":"b3","x":484,"x2":541,"y":588.5},{"level":"b4","x":484,"x2":541,"y":605.5},{"level":"b5","x":484,"x2":541,"y":621.5},{"level":"b6","x":484,"x2":541,"y":639.5},{"level":"b7","x":484,"x2":541,"y":656.5},{"level":"b8","x":484,"x2":541,"y":673.5},{"level":"b9","x":484,"x2":541,"y":690.5},
{"level":"c0","x":486,"x2":543,"y":1030.5},{"level":"c1","x":486,"x2":543,"y":1048.5},{"level":"c2","x":486,"x2":543,"y":1065.5},{"level":"c3","x":486,"x2":543,"y":1082.5},{"level":"c4","x":486,"x2":543,"y":1099.5},{"level":"c5","x":486,"x2":543,"y":1116.5},{"level":"c6","x":486,"x2":543,"y":1133.5},{"level":"c7","x":486,"x2":543,"y":1150.5},{"level":"c8","x":486,"x2":543,"y":1167.5},{"level":"c9","x":486,"x2":543,"y":1184.5}
]
},
"layer":[
{"data":{"values":[{"x":229,"y":231}]},"mark":{"type":"point","shape":"circle","filled":true,"fill":"#034b98","strokeWidth":0,"size":153664,"opacity":1}},
{"data":{"values":[{"x":227,"y":680}]},"mark":{"type":"point","shape":"circle","filled":true,"fill":"#034b98","strokeWidth":0,"size":158404,"opacity":1}},
{"data":{"values":[{"x":228,"y":1145}]},"mark":{"type":"point","shape":"circle","filled":true,"fill":"#034b98","strokeWidth":0,"size":156816,"opacity":1}},
{"data":{"name":"polys"},"transform":[{"window":[{"op":"row_number","as":"seq"}]}],"mark":{"type":"line","strokeWidth":0,"interpolate":"cardinal-closed","tension":0.5},"encoding":{"detail":{"field":"poly"},"order":{"field":"seq","type":"quantitative"},"fill":{"field":"band","type":"nominal","legend":null,"scale":{"domain":["1","2","3","4","5","6","7","8"],"range":["#0584c6","#1cb9ee","#93c9ae","#8dc45a","#a7cb22","#cfd82a","#fdb913","#e20a16"]}}}},
{"data":{"name":"hatch"},"mark":{"type":"rule","stroke":"#14305a","strokeWidth":0.9,"opacity":0.95},"encoding":{"x2":{"field":"x2"},"y2":{"field":"y2"}}},
{"data":{"values":[{"x":379,"y":553}]},"mark":{"type":"point","filled":false,"opacity":1,"stroke":"#000","strokeWidth":1.1,"size":4356,"shape":"M1 0C1 .552 .552 1 0 1C-.552 1 -1 .552 -1 0C-1 -.552 -.552 -1 0 -1C.552 -1 1 -.552 1 0ZM-.707 -.707L.707 .707M-.569 -.823L.823 .569M-.823 -.569L.569 .823M-.405 -.915L.915 .405M-.915 -.405L.405 .915M-.213 -.977L.977 .213M-.977 -.213L.213 .977M.018 -1L1 -.018M-1 .018L-.018 1M.328 -.944L.944 -.328M-.944 .328L-.328 .944M.707 -.707L-.707 .707M.569 -.823L-.823 .569M.823 -.569L-.569 .823M.405 -.915L-.915 .405M.915 -.405L-.405 .915M.213 -.977L-.977 .213M.977 -.213L-.213 .977M-.018 -1L-1 -.018M1 .018L.018 1M-.328 -.944L-.944 -.328M.944 .328L.328 .944"}},
{"data":{"values":[{"x":75,"y":806}]},"mark":{"type":"point","filled":false,"opacity":1,"stroke":"#000","strokeWidth":1.1,"size":4096,"shape":"M1 0C1 .552 .552 1 0 1C-.552 1 -1 .552 -1 0C-1 -.552 -.552 -1 0 -1C.552 -1 1 -.552 1 0ZM-.707 -.707L.707 .707M-.569 -.823L.823 .569M-.823 -.569L.569 .823M-.405 -.915L.915 .405M-.915 -.405L.405 .915M-.213 -.977L.977 .213M-.977 -.213L.213 .977M.018 -1L1 -.018M-1 .018L-.018 1M.328 -.944L.944 -.328M-.944 .328L-.328 .944M.707 -.707L-.707 .707M.569 -.823L-.823 .569M.823 -.569L-.569 .823M.405 -.915L-.915 .405M.915 -.405L-.405 .915M.213 -.977L-.977 .213M.977 -.213L-.213 .977M-.018 -1L-1 -.018M1 .018L.018 1M-.328 -.944L-.944 -.328M.944 .328L.328 .944"}},
{"data":{"values":[{"x":530,"y":736}]},"mark":{"type":"point","filled":false,"opacity":1,"stroke":"#000","strokeWidth":1.1,"size":2916,"shape":"M1 0C1 .552 .552 1 0 1C-.552 1 -1 .552 -1 0C-1 -.552 -.552 -1 0 -1C.552 -1 1 -.552 1 0ZM-.707 -.707L.707 .707M-.569 -.823L.823 .569M-.823 -.569L.569 .823M-.405 -.915L.915 .405M-.915 -.405L.405 .915M-.213 -.977L.977 .213M-.977 -.213L.213 .977M.018 -1L1 -.018M-1 .018L-.018 1M.328 -.944L.944 -.328M-.944 .328L-.328 .944M.707 -.707L-.707 .707M.569 -.823L-.823 .569M.823 -.569L-.569 .823M.405 -.915L-.915 .405M.915 -.405L-.405 .915M.213 -.977L-.977 .213M.977 -.213L-.213 .977M-.018 -1L-1 -.018M1 .018L.018 1M-.328 -.944L-.944 -.328M.944 .328L.328 .944"}},
{"data":{"values":[{"x":373,"y":1024}]},"mark":{"type":"point","filled":false,"opacity":0.95,"stroke":"#10284e","strokeWidth":0.9,"size":5776,"shape":"M1 0C1 .552 .552 1 0 1C-.552 1 -1 .552 -1 0C-1 -.552 -.552 -1 0 -1C.552 -1 1 -.552 1 0ZM-.707 -.707L.707 .707M-.569 -.823L.823 .569M-.823 -.569L.569 .823M-.405 -.915L.915 .405M-.915 -.405L.405 .915M-.213 -.977L.977 .213M-.977 -.213L.213 .977M.018 -1L1 -.018M-1 .018L-.018 1M.328 -.944L.944 -.328M-.944 .328L-.328 .944M.707 -.707L-.707 .707M.569 -.823L-.823 .569M.823 -.569L-.569 .823M.405 -.915L-.915 .405M.915 -.405L-.405 .915M.213 -.977L-.977 .213M.977 -.213L-.213 .977M-.018 -1L-1 -.018M1 .018L.018 1M-.328 -.944L-.944 -.328M.944 .328L.328 .944"}},
{"data":{"values":[{"x":80,"y":1267}]},"mark":{"type":"point","filled":false,"opacity":0.95,"stroke":"#10284e","strokeWidth":0.9,"size":6084,"shape":"M1 0C1 .552 .552 1 0 1C-.552 1 -1 .552 -1 0C-1 -.552 -.552 -1 0 -1C.552 -1 1 -.552 1 0ZM-.707 -.707L.707 .707M-.569 -.823L.823 .569M-.823 -.569L.569 .823M-.405 -.915L.915 .405M-.915 -.405L.405 .915M-.213 -.977L.977 .213M-.977 -.213L.213 .977M.018 -1L1 -.018M-1 .018L-.018 1M.328 -.944L.944 -.328M-.944 .328L-.328 .944M.707 -.707L-.707 .707M.569 -.823L-.823 .569M.823 -.569L-.569 .823M.405 -.915L-.915 .405M.915 -.405L-.405 .915M.213 -.977L-.977 .213M.977 -.213L-.213 .977M-.018 -1L-1 -.018M1 .018L.018 1M-.328 -.944L-.944 -.328M.944 .328L.328 .944"}},
{"data":{"values":[{"x":516,"y":273}]},"mark":{"type":"point","filled":false,"opacity":1,"stroke":"#222","strokeWidth":0.8,"size":1156,"shape":"M1 0C1 .552 .552 1 0 1C-.552 1 -1 .552 -1 0C-1 -.552 -.552 -1 0 -1C.552 -1 1 -.552 1 0ZM-.707 -.707L.707 .707M-.481 -.877L.877 .481M-.877 -.481L.481 .877M-.19 -.982L.982 .19M-.982 -.19L.19 .982M.21 -.978L.978 -.21M-.978 .21L-.21 .978M.707 -.707L-.707 .707M.481 -.877L-.877 .481M.877 -.481L-.481 .877M.19 -.982L-.982 .19M.982 -.19L-.19 .982M-.21 -.978L-.978 -.21M.978 .21L.21 .978"}},
{"data":{"values":[{"x":515,"y":1240}]},"mark":{"type":"point","filled":false,"opacity":1,"stroke":"#222","strokeWidth":0.7,"size":1764,"shape":"M1 0C1 .552 .552 1 0 1C-.552 1 -1 .552 -1 0C-1 -.552 -.552 -1 0 -1C.552 -1 1 -.552 1 0ZM-.707 -.707L.707 .707M-.481 -.877L.877 .481M-.877 -.481L.481 .877M-.19 -.982L.982 .19M-.982 -.19L.19 .982M.21 -.978L.978 -.21M-.978 .21L-.21 .978M.707 -.707L-.707 .707M.481 -.877L-.877 .481M.877 -.481L-.481 .877M.19 -.982L-.982 .19M.982 -.19L-.19 .982M-.21 -.978L-.978 -.21M.978 .21L.21 .978"}},
{"data":{"values":[{"x":229,"y":231}]},"mark":{"type":"point","shape":"circle","filled":false,"stroke":"white","strokeWidth":36,"size":183184,"opacity":1}},
{"data":{"values":[{"x":227,"y":680}]},"mark":{"type":"point","shape":"circle","filled":false,"stroke":"white","strokeWidth":36,"size":188356,"opacity":1}},
{"data":{"values":[{"x":228,"y":1145}]},"mark":{"type":"point","shape":"circle","filled":false,"stroke":"white","strokeWidth":36,"size":186624,"opacity":1}},
{"data":{"values":[{"x":229,"y":231}]},"mark":{"type":"point","shape":"circle","filled":false,"stroke":"#1c3a7a","strokeWidth":1,"size":153664,"opacity":1}},
{"data":{"values":[{"x":227,"y":680}]},"mark":{"type":"point","shape":"circle","filled":false,"stroke":"#222","strokeWidth":1.1,"size":158404,"opacity":1}},
{"data":{"values":[{"x":228,"y":1145}]},"mark":{"type":"point","shape":"circle","filled":false,"stroke":"#1c3a7a","strokeWidth":1,"size":156816,"opacity":1}},
{"data":{"values":[{"x":228,"y":1145}]},"mark":{"type":"point","shape":"circle","filled":false,"stroke":"#0e2a58","strokeWidth":1,"strokeDash":[1,6],"size":4900,"opacity":0.85}},
{"data":{"values":[{"x":228,"y":1145}]},"mark":{"type":"point","shape":"circle","filled":false,"stroke":"#0e2a58","strokeWidth":1,"strokeDash":[1,6],"size":11236,"opacity":0.85}},
{"data":{"values":[{"x":228,"y":1145}]},"mark":{"type":"point","shape":"circle","filled":false,"stroke":"#0e2a58","strokeWidth":1,"strokeDash":[1,6],"size":20736,"opacity":0.85}},
{"data":{"values":[{"x":228,"y":1145}]},"mark":{"type":"point","shape":"circle","filled":false,"stroke":"#0e2a58","strokeWidth":1,"strokeDash":[1,6],"size":33856,"opacity":0.85}},
{"data":{"values":[{"x":228,"y":1145}]},"mark":{"type":"point","shape":"circle","filled":false,"stroke":"#0e2a58","strokeWidth":1,"strokeDash":[1,6],"size":51984,"opacity":0.85}},
{"data":{"values":[{"x":228,"y":1145}]},"mark":{"type":"point","shape":"circle","filled":false,"stroke":"#0e2a58","strokeWidth":1,"strokeDash":[1,6],"size":76176,"opacity":0.85}},
{"data":{"values":[{"x":228,"y":1145}]},"mark":{"type":"point","shape":"circle","filled":false,"stroke":"#0e2a58","strokeWidth":1,"strokeDash":[1,6],"size":110224,"opacity":0.85}},
{"data":{"name":"ticksA"},"mark":{"type":"rule","stroke":"#666","strokeWidth":1},"encoding":{"x2":{"field":"x2"},"y2":{"field":"y2"}}},
{"data":{"name":"ticksB"},"mark":{"type":"rule","stroke":"#111","strokeWidth":1.1},"encoding":{"x2":{"field":"x2"},"y2":{"field":"y2"}}},
{"data":{"name":"cross"},"mark":{"type":"rule","stroke":"#0c1a4c","strokeWidth":1},"encoding":{"x2":{"field":"x2"},"y2":{"field":"y2"}}},
{"data":{"name":"axisMarks"},"mark":{"type":"point","filled":false,"opacity":1,"stroke":"#0c1a4c","strokeWidth":1,"size":49,"shape":"M-1 0L1 0M0 -1L0 1"}},
{"data":{"name":"rays"},"mark":{"type":"rule","stroke":"#d0505a","strokeWidth":1},"encoding":{"x2":{"field":"x2"},"y2":{"field":"y2"}}},
{"data":{"name":"dots"},"mark":{"type":"point","shape":"circle","filled":true,"fill":"#fff","stroke":"#000","strokeWidth":1.5,"size":150,"opacity":1}},
{"data":{"name":"keyLines"},"mark":{"type":"rule","strokeWidth":1},"encoding":{"x2":{"field":"x2"},"stroke":{"field":"level","type":"nominal","legend":null,"scale":{"domain":["a0","a1","a2","a3","a4","a5","a6","a7","a8","a9","b0","b1","b2","b3","b4","b5","b6","b7","b8","b9","c0","c1","c2","c3","c4","c5","c6","c7","c8","c9"],"range":["#3a78b8","#3f9ad6","#3fc6f2","#a8d4c0","#9ccc74","#dfeac0","#b8d030","#d4d840","#fdeec0","#e84a50","#2f6ac0","#6cc0ea","#3cc0f0","#a4dac8","#90c880","#a0d050","#a8c828","#d8e070","#fdc010","#f03030","#3a78c0","#4a9ad6","#40c0f0","#e4f0ec","#a0d080","#90c860","#e8f0cc","#d8e040","#fdd060","#fcc8c8"]}}}},
{"data":{"values":[{"x":479,"x2":678,"y":370},{"x":507,"x2":645,"y":989}]},"mark":{"type":"rule","stroke":"#aaa","strokeWidth":1.5},"encoding":{"x2":{"field":"x2"}}},
{"data":{"values":[{"x":503,"x2":648,"y":54.5},{"x":477,"x2":679,"y":827.5},{"x":480,"x2":681,"y":1280.5}]},"mark":{"type":"rule","stroke":"#222","strokeWidth":1},"encoding":{"x2":{"field":"x2"}}},
{"data":{"values":[{"x":575,"y":29,"t":"Fisher"},{"x":575,"y":44,"t":"Concentrations"},{"x":575,"y":60,"t":"f total per 1.0 % area"},{"x":575,"y":326,"t":"No Bias Correction"},{"x":575,"y":342,"t":"Max. Conc. = 19.8423%"},{"x":575,"y":382,"t":"Equal Angle"},{"x":575,"y":398,"t":"Lower Hemisphere"},{"x":575,"y":413,"t":"267 Poles"},{"x":575,"y":429,"t":"267 Entries"}]},"mark":{"type":"text","font":"Liberation Mono","fontSize":11,"align":"center","baseline":"middle","fill":"#444"},"encoding":{"text":{"field":"t"}}},
{"data":{"values":[{"x":668,"y":96,"t":"0.00  %"},{"x":668,"y":113,"t":"2.00  %"},{"x":668,"y":130,"t":"4.00  %"},{"x":668,"y":147,"t":"6.00  %"},{"x":668,"y":163,"t":"8.00  %"},{"x":668,"y":180,"t":"10.00  %"},{"x":668,"y":197,"t":"12.00  %"},{"x":668,"y":214,"t":"14.00  %"},{"x":668,"y":231,"t":"16.00  %"},{"x":668,"y":248,"t":"18.00  %"}]},"mark":{"type":"text","font":"Liberation Mono","fontSize":9.5,"align":"right","baseline":"middle","fill":"#555"},"encoding":{"text":{"field":"t"}}},
{"data":{"values":[{"x":3,"y":8,"t":"Grouting fan 2"}]},"mark":{"type":"text","font":"Liberation Mono","fontSize":9,"align":"left","baseline":"middle","fill":"#444"},"encoding":{"text":{"field":"t"}}},
{"data":{"values":[{"x":229,"y":23,"t":"N"},{"x":20,"y":231,"t":"W"},{"x":438,"y":231,"t":"E"},{"x":229,"y":440,"t":"S"}]},"mark":{"type":"text","font":"Liberation Mono","fontSize":10,"align":"center","baseline":"middle","fill":"#333"},"encoding":{"text":{"field":"t"}}},
{"data":{"values":[{"x":575,"y":470,"t":"Fisher"},{"x":575,"y":485,"t":"Concentrations"},{"x":575,"y":501,"t":"% of total per 1.0 % area"},{"x":574,"y":783,"t":"No Bias Correction"},{"x":574,"y":798,"t":"Max. Conc. = 14.1074%"},{"x":574,"y":839,"t":"Equal Angle"},{"x":574,"y":855,"t":"Lower Hemisphere"},{"x":574,"y":871,"t":"202 Poles"},{"x":574,"y":886,"t":"202 Entries"}]},"mark":{"type":"text","font":"Liberation Sans","fontSize":10,"align":"center","baseline":"middle","fill":"#111"},"encoding":{"text":{"field":"t"}}},
{"data":{"values":[{"x":667,"y":538,"t":"0.00 %"},{"x":667,"y":555,"t":"1.50 %"},{"x":667,"y":572,"t":"3.00 %"},{"x":667,"y":589,"t":"4.50 %"},{"x":667,"y":606,"t":"6.00 %"},{"x":667,"y":623,"t":"7.50 %"},{"x":667,"y":640,"t":"9.00 %"},{"x":667,"y":657,"t":"10.50 %"},{"x":667,"y":674,"t":"12.00 %"},{"x":667,"y":691,"t":"13.50 %"}]},"mark":{"type":"text","font":"Liberation Sans","fontSize":10,"align":"right","baseline":"middle","fill":"#111"},"encoding":{"text":{"field":"t"}}},
{"data":{"values":[{"x":576,"y":737,"t":"+-10degrees"}]},"mark":{"type":"text","font":"Liberation Sans","fontSize":9,"align":"left","baseline":"middle","fill":"#222"},"encoding":{"text":{"field":"t"}}},
{"data":{"values":[{"x":15,"y":465,"t":"Grouting fan 4"}]},"mark":{"type":"text","font":"Liberation Sans","fontSize":9,"align":"left","baseline":"middle","fill":"#111"},"encoding":{"text":{"field":"t"}}},
{"data":{"values":[{"x":226,"y":471,"t":"N"},{"x":439,"y":680,"t":"E"},{"x":226,"y":890,"t":"S"}]},"mark":{"type":"text","font":"Liberation Sans","fontSize":9,"fontWeight":"bold","align":"center","baseline":"middle","fill":"#111"},"encoding":{"text":{"field":"t"}}},
{"data":{"values":[{"x":577,"y":965,"t":"Fisher"},{"x":577,"y":981,"t":"Concentrations"},{"x":576,"y":1294,"t":"Equal Angle"}]},"mark":{"type":"text","font":"Liberation Sans","fontSize":12.5,"align":"center","baseline":"middle","fill":"#111"},"encoding":{"text":{"field":"t"}}},
{"data":{"values":[{"x":576,"y":996,"t":"% of total per 1.0 % area"},{"x":577,"y":1310,"t":"Lower Hemisphere"},{"x":577,"y":1326,"t":"217 Poles"},{"x":577,"y":1341,"t":"217 Entries"}]},"mark":{"type":"text","font":"Liberation Sans","fontSize":12,"fontWeight":"bold","align":"center","baseline":"middle","fill":"#111"},"encoding":{"text":{"field":"t"}}},
{"data":{"values":[{"x":670,"y":1032,"t":"0.00 %"},{"x":670,"y":1049,"t":"2.50 %"},{"x":670,"y":1066,"t":"5.00 %"},{"x":670,"y":1083,"t":"7.50 %"},{"x":670,"y":1100,"t":"10.00 %"},{"x":670,"y":1117,"t":"12.50 %"},{"x":670,"y":1134,"t":"15.00 %"},{"x":670,"y":1151,"t":"17.50 %"},{"x":670,"y":1168,"t":"20.00 %"},{"x":670,"y":1184,"t":"22.50 %"}]},"mark":{"type":"text","font":"Liberation Sans","fontSize":12.5,"fontWeight":"bold","align":"right","baseline":"middle","fill":"#222"},"encoding":{"text":{"field":"t"}}},
{"data":{"values":[{"x":10,"y":911,"t":"Skärm 5 och 6, innanför kontur"}]},"mark":{"type":"text","font":"Liberation Sans","fontSize":13.5,"fontWeight":"bold","align":"left","baseline":"middle","fill":"#111"},"encoding":{"text":{"field":"t"}}},
{"data":{"values":[{"x":228,"y":932,"t":"N"},{"x":13,"y":1145,"t":"W"},{"x":440,"y":1145,"t":"E"},{"x":228,"y":1357,"t":"S"}]},"mark":{"type":"text","font":"Liberation Sans","fontSize":13,"fontWeight":"bold","align":"center","baseline":"middle","fill":"#111"},"encoding":{"text":{"field":"t"}}}
]}
